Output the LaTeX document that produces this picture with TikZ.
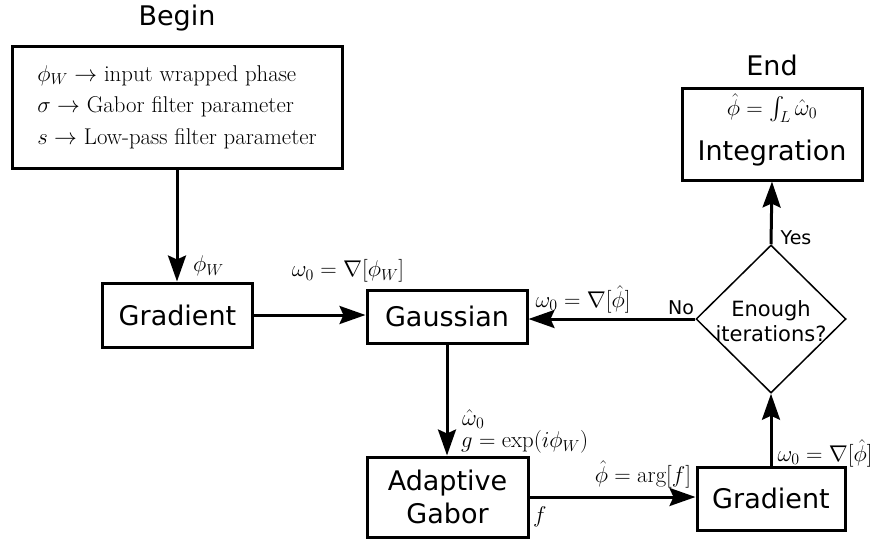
\RequirePackage{fix-cm}
\documentclass[tikz,border=0pt]{standalone}
\usepackage{fontspec}
\DeclareFontShape{OMX}{cmex}{m}{n}{<-> cmex10}{}
\newfontfamily\sansf{DejaVu Sans}
\usetikzlibrary{shapes.geometric,arrows.meta}
\newcommand\mathsz{\fontsize{22.8}{31.5}\selectfont}
\newcommand\bigsans{\sansf\fontsize{27}{33}\selectfont}
\newcommand\midsans{\sansf\fontsize{21}{25}\selectfont}
\newcommand\smallsans{\sansf\fontsize{19}{23}\selectfont}
\begin{document}
\begin{tikzpicture}[x=1pt,y=-1pt,
  box/.style={draw, line width=3pt, inner sep=0pt, font=\bigsans, align=center},
  conn/.style={line width=3pt, -{Stealth[length=26pt,width=18pt,inset=4pt]}},
  lab/.style={font=\mathsz, inner sep=0pt},
  sanslab/.style={font=\smallsans, inner sep=0pt}]
\useasboundingbox (0,0) rectangle (876,541);
% titles
\node[font=\bigsans] (begintitle) at (177,18) {Begin};
\node[font=\bigsans] (endtitle) at (772,65) {End};
% boxes
\node[box, font=\mathsz, align=left, minimum width=330, minimum height=122] (begin) at (177,107)
  {$\phi_W \rightarrow$ input wrapped phase\\ $\sigma \rightarrow$ Gabor filter parameter\\ $s \rightarrow$ Low-pass filter parameter};
\node[box, minimum width=150, minimum height=64] (g1) at (177.5,315) {Gradient};
\node[box, minimum width=160, minimum height=53] (gauss) at (447,316.5) {Gaussian};
\node[box, minimum width=161, minimum height=80] (ag) at (447.5,497) {Adaptive\\Gabor};
\node[box, minimum width=148, minimum height=63] (g2) at (771,498.5) {Gradient};
\node[diamond, draw, line width=1.5pt, minimum width=150, minimum height=148, inner sep=0pt] (dec) at (771,319) {};
\node[font=\midsans, align=center, inner sep=0pt] (dectext) at (771,321) {Enough\\iterations?};
\node[box, minimum width=180, minimum height=92] (integ) at (772,134) {};
\node[lab] (integf) at (772,108) {$\hat\phi = \int_L \hat\omega_0$};
\node[font=\bigsans, inner sep=0pt] (integt) at (772,153) {Integration};
% connectors
\draw[conn] (begin.south) -- (begin.south |- g1.north);
\draw[conn] (g1.east) -- (g1.east -| gauss.west);
\draw[conn] (gauss.south) -- (gauss.south |- ag.north);
\draw[conn] (ag.east) -- (ag.east -| g2.west);
\draw[conn] (g2.north) -- (dec.south);
\draw[conn] (dec.west) -- (dec.west -| gauss.east);
\draw[conn] (dec.north) -- (integ.south);
% labels
\node[lab, anchor=west] (l1) at (193,266) {$\phi_W$};
\node[lab] (l2) at (348,271) {$\omega_0 = \nabla[\phi_W]$};
\node[lab] (l3) at (583,299) {$\omega_0 = \nabla[\hat\phi]$};
\node[sanslab] (no) at (681,308) {No};
\node[sanslab] (yes) at (796,238) {Yes};
\node[lab, anchor=west] (l4) at (462,419) {$\hat\omega_0$};
\node[lab, anchor=west] (l5) at (461,442) {$g = \exp(i\phi_W)$};
\node[lab] (l6) at (643,474) {$\hat\phi = \arg[f]$};
\node[lab, anchor=west] (l7) at (533,517) {$f$};
\node[lab] (l8) at (825,453) {$\omega_0 = \nabla[\hat\phi]$};
\end{tikzpicture}
\end{document}
